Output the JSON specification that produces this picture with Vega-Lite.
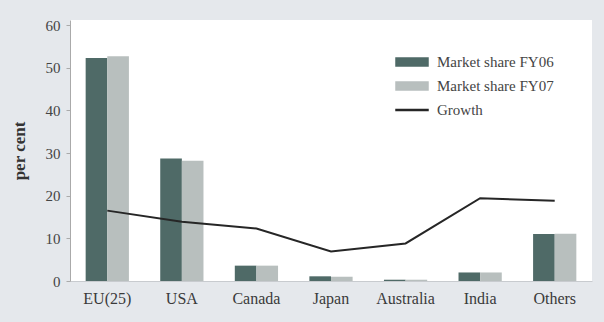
{
  "$schema": "https://vega.github.io/schema/vega-lite/v6.json",
  "width": 522,
  "height": 261,
  "autosize": {"type": "none"},
  "padding": {"left": 70, "top": 20, "right": 12, "bottom": 41},
  "background": "#e5e8ec",
  "config": {
    "font": "Liberation Serif",
    "view": {"fill": "white", "stroke": null}
  },
  "datasets": {
    "share": [
      {"country": "EU(25)", "series": "Market share FY06", "value": 52.3},
      {"country": "EU(25)", "series": "Market share FY07", "value": 52.7},
      {"country": "USA", "series": "Market share FY06", "value": 28.7},
      {"country": "USA", "series": "Market share FY07", "value": 28.2},
      {"country": "Canada", "series": "Market share FY06", "value": 3.6},
      {"country": "Canada", "series": "Market share FY07", "value": 3.6},
      {"country": "Japan", "series": "Market share FY06", "value": 1.1},
      {"country": "Japan", "series": "Market share FY07", "value": 1.0},
      {"country": "Australia", "series": "Market share FY06", "value": 0.3},
      {"country": "Australia", "series": "Market share FY07", "value": 0.3},
      {"country": "India", "series": "Market share FY06", "value": 2.0},
      {"country": "India", "series": "Market share FY07", "value": 2.0},
      {"country": "Others", "series": "Market share FY06", "value": 11.0},
      {"country": "Others", "series": "Market share FY07", "value": 11.1}
    ],
    "growth": [
      {"country": "EU(25)", "series": "Growth", "value": 16.5},
      {"country": "USA", "series": "Growth", "value": 13.9},
      {"country": "Canada", "series": "Growth", "value": 12.3},
      {"country": "Japan", "series": "Growth", "value": 6.9},
      {"country": "Australia", "series": "Growth", "value": 8.8},
      {"country": "India", "series": "Growth", "value": 19.4},
      {"country": "Others", "series": "Growth", "value": 18.8}
    ]
  },
  "encoding": {
    "x": {
      "field": "country",
      "type": "nominal",
      "sort": ["EU(25)", "USA", "Canada", "Japan", "Australia", "India", "Others"],
      "scale": {"paddingInner": 0.42, "paddingOuter": 0.21},
      "axis": {
        "title": null,
        "labelAngle": 0,
        "labelFontSize": 16,
        "labelColor": "#3a3a3a",
        "labelPadding": 9,
        "ticks": false,
        "domainColor": "#c8cbcf"
      }
    },
    "y": {
      "field": "value",
      "type": "quantitative",
      "scale": {"domain": [0, 61.2], "nice": false},
      "axis": {
        "title": "per cent",
        "titleFontSize": 17,
        "titleFontWeight": "bold",
        "titleColor": "#333333",
        "titlePadding": 17,
        "values": [0, 10, 20, 30, 40, 50, 60],
        "grid": false,
        "labelFontSize": 15,
        "labelColor": "#444444",
        "labelPadding": 6,
        "tickSize": 4,
        "tickColor": "#aaaaaa",
        "domainColor": "#aaaaaa"
      }
    },
    "color": {
      "field": "series",
      "type": "nominal",
      "scale": {
        "domain": ["Market share FY06", "Market share FY07", "Growth"],
        "range": ["#4f6a67", "#b8bfbe", "#262626"]
      },
      "legend": {
        "title": null,
        "orient": "none",
        "legendX": 333,
        "legendY": 33,
        "padding": 0,
        "symbolSize": 256,
        "labelOffset": 16,
        "rowPadding": 7,
        "labelFontSize": 15,
        "labelColor": "#444444",
        "encode": {
          "symbols": {
            "update": {
              "shape": {"signal": "datum.value === 'Growth' ? 'M-2,-0.07H2V0.07H-2Z' : 'M-2,-0.5H2V0.5H-2Z'"},
              "fill": {"signal": "scale('color', datum.value)"},
              "stroke": {"value": "transparent"},
              "fillOpacity": {"value": 1}
            }
          }
        }
      }
    }
  },
  "layer": [
    {
      "data": {"name": "share"},
      "mark": {"type": "bar"},
      "encoding": {
        "xOffset": {"field": "series", "type": "nominal", "scale": {"paddingInner": 0}}
      }
    },
    {
      "data": {"name": "growth"},
      "mark": {"type": "line", "strokeWidth": 2}
    }
  ]
}
